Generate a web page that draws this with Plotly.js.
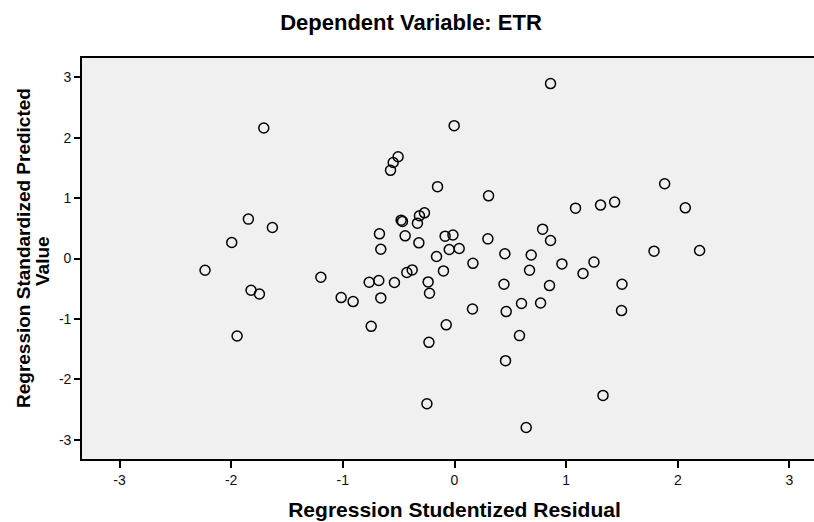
<!DOCTYPE html>
<html>
<head>
<meta charset="utf-8">
<script src="https://cdn.plot.ly/plotly-3.0.1.min.js"></script>
<style>
html, body { margin: 0; padding: 0; overflow: hidden; background: #ffffff; }
#chart { width: 828px; height: 522px; }
</style>
</head>
<body>
<div id="chart"></div>
<script>
// Regression Studentized Residual (x) vs Regression Standardized Predicted Value (y)
var studentizedResidual = [
  -1.708, -0.505, -0.549, -0.573, -0.152, -1.846, -1.631, -1.995, -0.478, -0.466,
  -0.314, -0.269, -0.332, -0.672, -0.660, -0.442, -0.319, -0.161, -0.084, -0.014,
  -0.047, 0.042, 0.860, -0.003, 0.305, 1.882, 2.067, 1.084, 1.308, 1.434,
  0.299, 0.789, 0.860, 0.451, 0.687, 1.787, 2.195, 0.165, 0.962, 1.249,
  1.151, 0.672, 0.443, 0.851, 0.161, 0.463, 0.600, 0.771, 0.582, 0.457,
  -0.099, 1.500, 1.496, -0.074, 1.330, 0.642, -2.234, -1.822, -1.747, -1.947,
  -1.197, -1.015, -0.908, -0.764, -0.678, -0.660, -0.538, -0.427, -0.379, -0.236,
  -0.224, -0.746, -0.229, -0.247
];
var standardizedPredicted = [
  2.160, 1.685, 1.590, 1.460, 1.190, 0.652, 0.514, 0.265, 0.635, 0.614,
  0.707, 0.756, 0.585, 0.408, 0.154, 0.375, 0.259, 0.033, 0.370, 0.390,
  0.149, 0.166, 2.896, 2.200, 1.038, 1.237, 0.839, 0.834, 0.884, 0.934,
  0.325, 0.486, 0.298, 0.078, 0.058, 0.121, 0.133, -0.080, -0.090, -0.060,
  -0.249, -0.194, -0.426, -0.448, -0.836, -0.879, -0.746, -0.736, -1.277, -1.692,
  -0.206, -0.426, -0.862, -1.098, -2.267, -2.798, -0.194, -0.526, -0.587, -1.283,
  -0.310, -0.647, -0.713, -0.393, -0.365, -0.653, -0.398, -0.232, -0.189, -0.388,
  -0.575, -1.123, -1.388, -2.405
];
var tickValues = [-3, -2, -1, 0, 1, 2, 3];
var tickLabels = ['-3', '-2', '-1', '0', '1', '2', '3'];
var yTitleLines = ['Regression Standardized Predicted', 'Value'];

var trace = {
  type: 'scatter',
  mode: 'markers',
  x: studentizedResidual,
  y: standardizedPredicted,
  marker: {
    symbol: 'circle-open',
    size: 10,
    color: '#000000',
    line: { color: '#000000', width: 1.5 }
  },
  hoverinfo: 'x+y',
  showlegend: false
};

var fontFamily = '"Liberation Sans", Arial, Helvetica, sans-serif';
var plotTop = 58, plotBottom = 459;
function paperY(px) { return (plotBottom - px) / (plotBottom - plotTop); }
function paperX(px) { return (px - 82) / (828 - 82 - 1); }

var layout = {
  width: 828,
  height: 522,
  margin: { l: 82, r: 1, t: 58, b: 63 },
  paper_bgcolor: '#ffffff',
  plot_bgcolor: '#f0f0f0',
  font: { family: fontFamily, color: '#000000' },
  title: {
    text: '<b>Dependent Variable: ETR</b>',
    font: { family: fontFamily, size: 22, color: '#000000' },
    x: 411 / 828,
    xref: 'container',
    xanchor: 'center',
    y: 1 - 22 / 522,
    yref: 'container',
    yanchor: 'middle'
  },
  xaxis: {
    range: [-3.336, 3.336],
    tickmode: 'array',
    tickvals: tickValues,
    ticktext: tickLabels,
    ticks: 'outside',
    ticklen: 7,
    tickwidth: 1.5,
    tickcolor: '#000000',
    showline: true,
    linecolor: '#000000',
    linewidth: 1.6,
    mirror: true,
    showgrid: false,
    zeroline: false,
    tickfont: { family: fontFamily, size: 14, color: '#111111' },
    title: {
      text: '<b>Regression Studentized Residual</b>',
      font: { family: fontFamily, size: 21, color: '#000000' },
      standoff: 16
    }
  },
  yaxis: {
    range: [-3.32, 3.32],
    tickmode: 'array',
    tickvals: tickValues,
    ticktext: tickLabels,
    ticks: 'outside',
    ticklen: 6,
    tickwidth: 1.5,
    tickcolor: '#000000',
    showline: true,
    linecolor: '#000000',
    linewidth: 1.6,
    mirror: true,
    showgrid: false,
    zeroline: false,
    tickfont: { family: fontFamily, size: 14, color: '#111111' },
    title: { text: '' }
  },
  annotations: [
    {
      text: '<b>' + yTitleLines[0] + '</b>',
      textangle: -90,
      xref: 'paper', yref: 'paper',
      x: paperX(23), y: paperY(248),
      xanchor: 'center', yanchor: 'middle',
      showarrow: false,
      font: { family: fontFamily, size: 19, color: '#000000' }
    },
    {
      text: '<b>' + yTitleLines[1] + '</b>',
      textangle: -90,
      xref: 'paper', yref: 'paper',
      x: paperX(42), y: paperY(261),
      xanchor: 'center', yanchor: 'middle',
      showarrow: false,
      font: { family: fontFamily, size: 19, color: '#000000' }
    }
  ]
};

Plotly.newPlot('chart', [trace], layout, { displayModeBar: false });
</script>
</body>
</html>
